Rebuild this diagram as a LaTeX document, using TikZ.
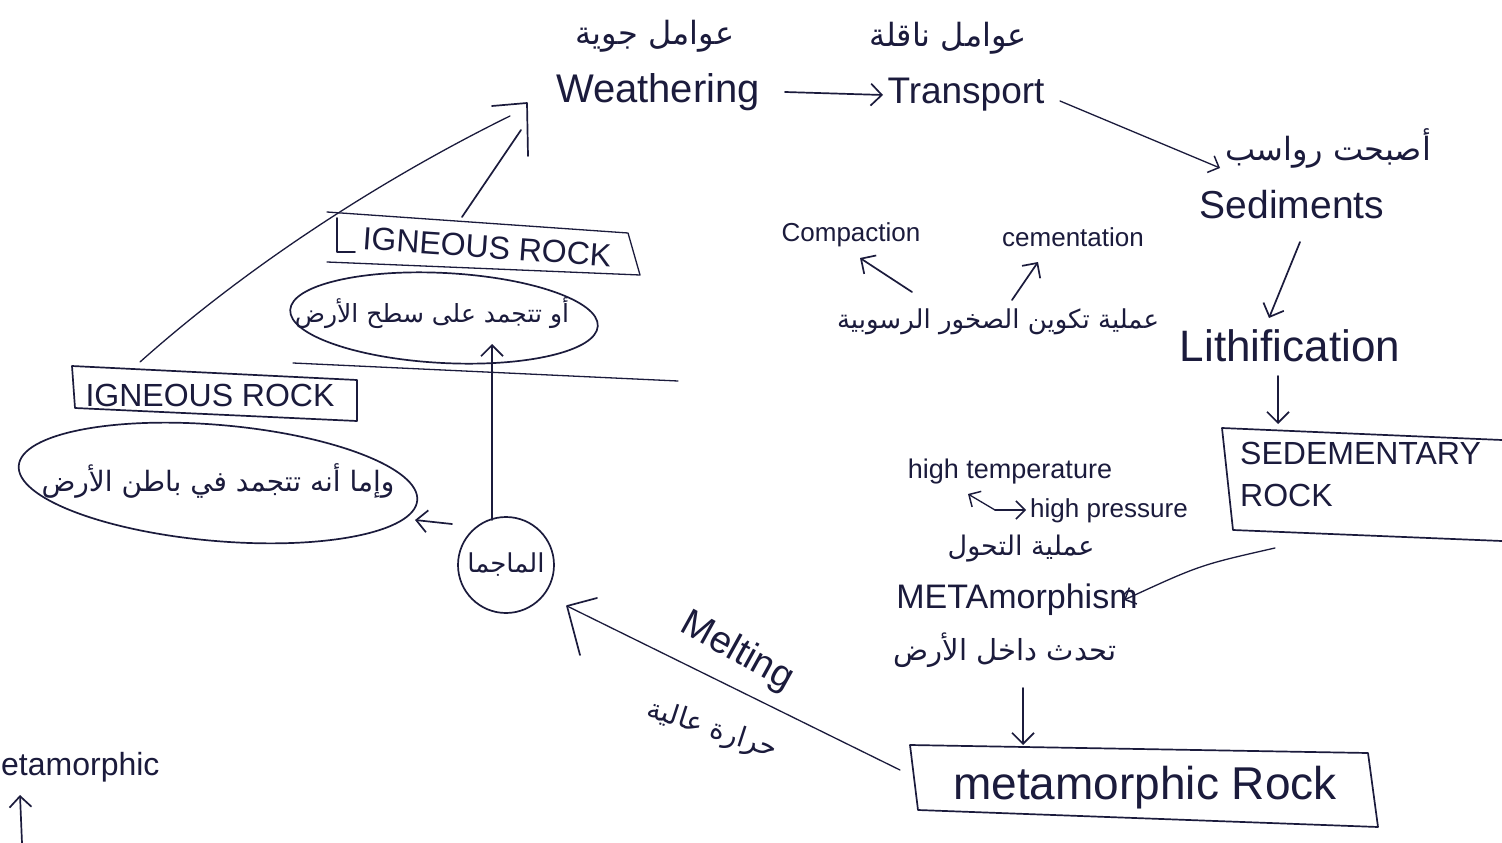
\documentclass[tikz,border=0pt]{standalone}
\usepackage{fontspec}
\setmainfont{Liberation Sans}
\newfontfamily\arabicfont[Script=Arabic]{DejaVu Sans}
\TeXXeTstate=1
\usetikzlibrary{arrows.meta}
\definecolor{ink}{HTML}{1B1B3C}
\newcommand{\artext}[1]{\arabicfont\beginR #1\endR}
\tikzset{
  txt/.style={text=ink, inner sep=0pt, font=\fontsize{#1}{#1}\selectfont},
  inkline/.style={draw=ink, line width=1.7pt, line cap=round, line join=round},
  arr/.style={inkline, -{Straight Barb[length=11pt,width=22pt,line width=1.7pt]}},
  thinline/.style={draw=ink, line width=1.3pt, line cap=round, line join=round},
  thinarr/.style={thinline, -{Straight Barb[length=9pt,width=18pt,line width=1.5pt]}},
}
\begin{document}
\begin{tikzpicture}[x=1pt, y={(0pt,-1pt)}]
\useasboundingbox (0,0) rectangle (1502,843);
\clip (0,0) rectangle (1502,843);
\fill[white] (0,0) rectangle (1502,843);

% ---- top row
\node[txt=32] (weatherAr) at (655,36) {\artext{عوامل جوية}};
\node[txt=40] (weather) at (658,92) {Weathering};
\node[txt=32] (transAr) at (948,38) {\artext{عوامل ناقلة}};
\node[txt=37] (trans) at (966,95) {Transport};
\node[txt=32] (sedAr) at (1328,148) {\artext{أصبحت رواسب}};
\node[txt=39] (sed) at (1292,205) {Sediments};

\coordinate (w1) at (785,92);
\coordinate (t0) at (883,95);
\draw[arr] (w1) -- (t0);
\coordinate (t1) at (1060,101);
\coordinate (s0) at (1220,168);
\draw[thinarr] (t1) -- (s0);

% ---- lithification
\node[txt=26] (compact) at (851,235) {Compaction};
\node[txt=26] (cement) at (1073,237) {cementation};
\node[txt=26] (lithAr) at (998,322) {\artext{عملية تكوين الصخور الرسوبية}};
\node[txt=44] (lith) at (1290,346) {Lithification};
\coordinate (c0) at (912,292);
\coordinate (c1) at (860,258);
\draw[arr] (c0) -- (c1);
\coordinate (e0) at (1012,300);
\coordinate (e1) at (1038,262);
\draw[arr] (e0) -- (e1);
\coordinate (s1) at (1300,242);
\coordinate (l0) at (1269,318);
\draw[arr] (s1) -- (l0);
\coordinate (l1) at (1278,376);
\coordinate (r0) at (1278,424);
\draw[arr] (l1) -- (r0);

% ---- sedimentary box
\draw[inkline] (1502,440) -- (1222,428) -- (1233,530) -- (1502,541);
\node[txt=32, align=left, anchor=north west, font=\fontsize{32}{42}\selectfont] (sedrock) at (1240,442) {SEDEMENTARY\\ROCK};

% ---- metamorphism
\node[txt=27] (hiT) at (1010,472) {high temperature};
\node[txt=26] (hiP) at (1109,511) {high pressure};
\coordinate (p0) at (995,510);
\coordinate (p1) at (968,494);
\coordinate (p2) at (1026,510);
\draw[thinarr] (p0) -- (p1);
\draw[thinarr] (p0) -- (p2);
\node[txt=27] (metaAr) at (1021,549) {\artext{عملية التحول}};
\node[txt=34] (meta) at (1017,600) {METAmorphism};
\node[txt=29] (metaAr2) at (1005,650) {\artext{تحدث داخل الأرض}};
\coordinate (r1) at (1275,548);
\coordinate (m0) at (1124,600);
\draw[thinarr] (r1) .. controls (1200,565) .. (m0);
\coordinate (m1) at (1023,688);
\coordinate (mr0) at (1023,745);
\draw[arr] (m1) -- (mr0);

% ---- metamorphic rock box
\draw[inkline] (910,745) -- (1368,753) -- (1378,827) -- (918,810) -- cycle;
\node[txt=46] (metarock) at (1145,788) {metamorphic Rock};

% ---- melting
\coordinate (mr1) at (900,770);
\coordinate (mg0) at (567,606);
\draw[thinline] (mr1) -- (mg0);
\draw[inkline] (597,598) -- (mg0) -- (580,655);
\node[txt=38, rotate=-29] (melt) at (737,652) {Melting};
\node[txt=28, rotate=-18] (meltAr) at (712,730) {\artext{حرارة عالية}};

% ---- magma
\node[circle, inkline, minimum size=96pt, inner sep=0pt, txt=26, draw=ink] (magma) at (506,565) {\artext{الماجما}};
\coordinate (g0) at (492,520);
\coordinate (g1) at (492,344);
\draw[arr] (g0) -- (g1);
\coordinate (g2) at (452,524);
\coordinate (g3) at (415,520);
\draw[arr] (g2) -- (g3);

% ---- lower igneous
\draw[inkline] (218,483) ellipse [x radius=200, y radius=58, rotate=-5];
\node[txt=28] (lowAr) at (218,481) {\artext{وإما أنه تتجمد في باطن الأرض}};
\draw[inkline] (72,366) -- (357,380) -- (357,421) -- (75,408) -- cycle;
\node[txt=32] (ig1) at (210,395) {IGNEOUS ROCK};

% ---- ground line
\coordinate (gl0) at (293,363);
\coordinate (gl1) at (678,381);
\draw[thinline] (gl0) -- (gl1);

% ---- upper igneous
\draw[inkline] (444,318) ellipse [x radius=154, y radius=45, rotate=-3];
\node[txt=25] (upAr) at (432,313) {\artext{أو تتجمد على سطح الأرض}};
\draw[thinline] (327,212) -- (628,233) -- (640,275) -- (327,262);
\draw[inkline] (337,218) -- (337,252) -- (355,252);
\node[txt=32, rotate=-4] (ig2) at (487,247) {IGNEOUS ROCK};

% ---- arrows to weathering
\coordinate (tip) at (527,103);
\coordinate (i1) at (140,362);
\coordinate (i1e) at (510,116);
\draw[thinline] (i1) .. controls (260,255) and (400,170) .. (i1e);
\coordinate (i2) at (462,217);
\coordinate (i2e) at (521,130);
\draw[inkline] (i2) -- (i2e);
\draw[inkline] (492,106) -- (tip) -- (528,156);

% ---- bottom left fragment
\node[txt=32, anchor=west] (metaL) at (1,767) {etamorphic};
\coordinate (b0) at (22,843);
\coordinate (b1) at (20,795);
\draw[arr] (b0) -- (b1);
\end{tikzpicture}
\end{document}
